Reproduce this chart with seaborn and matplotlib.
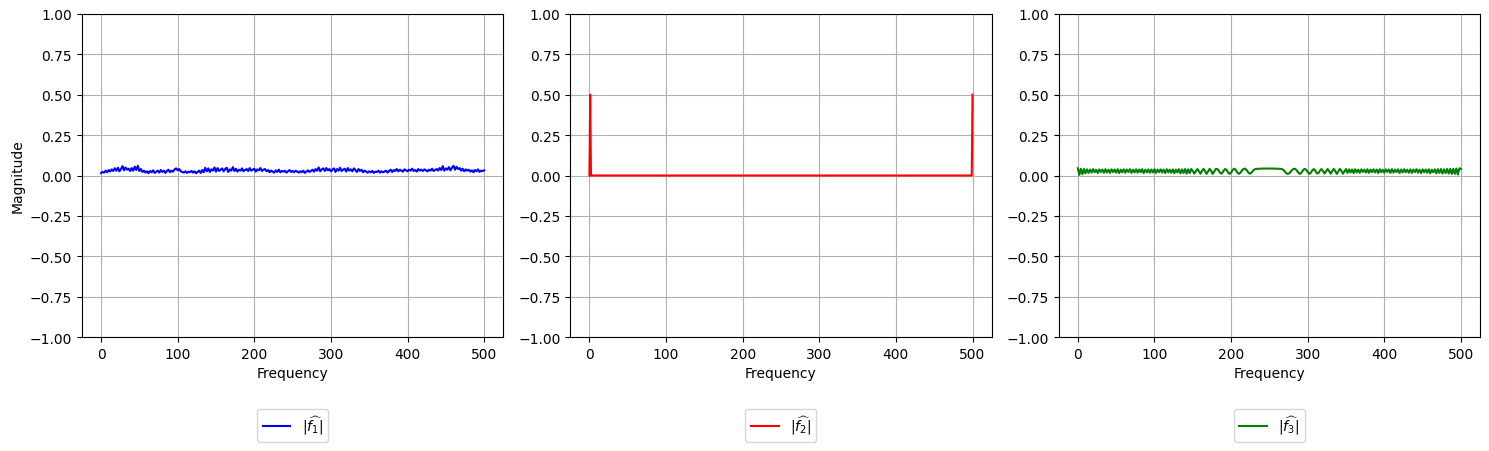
import numpy as np
import pandas as pd
import seaborn as sns
import matplotlib
matplotlib.use('Agg')
import matplotlib.pyplot as plt

# frequency axis for f1 and f3 (every 2nd bin)
freq = np.arange(0, 501, 2)

# |f1 hat| - noisy spectrum
mag_f1 = [
    0.015, 0.022, 0.018, 0.030, 0.020, 0.034, 0.025, 0.038, 0.028, 0.045,
    0.030, 0.048, 0.026, 0.040, 0.058, 0.032, 0.050, 0.036, 0.042, 0.028,
    0.046, 0.030, 0.055, 0.034, 0.060, 0.028, 0.040, 0.022, 0.030, 0.018,
    0.026, 0.014, 0.028, 0.020, 0.032, 0.016, 0.024, 0.030, 0.018, 0.034,
    0.022, 0.030, 0.016, 0.028, 0.036, 0.020, 0.030, 0.024, 0.038, 0.044,
    0.032, 0.040, 0.026, 0.022, 0.018, 0.026, 0.016, 0.024, 0.020, 0.028,
    0.018, 0.026, 0.014, 0.022, 0.030, 0.016, 0.034, 0.020, 0.048, 0.026,
    0.044, 0.022, 0.038, 0.030, 0.050, 0.024, 0.046, 0.028, 0.036, 0.044,
    0.026, 0.040, 0.048, 0.022, 0.038, 0.030, 0.052, 0.028, 0.042, 0.024,
    0.036, 0.030, 0.044, 0.026, 0.034, 0.040, 0.028, 0.046, 0.030, 0.036,
    0.042, 0.024, 0.038, 0.032, 0.046, 0.028, 0.036, 0.040, 0.026, 0.034,
    0.020, 0.030, 0.024, 0.018, 0.032, 0.022, 0.036, 0.020, 0.028, 0.024,
    0.030, 0.018, 0.026, 0.034, 0.022, 0.028, 0.020, 0.030, 0.024, 0.018,
    0.026, 0.020, 0.030, 0.016, 0.024, 0.032, 0.022, 0.028, 0.036, 0.024,
    0.040, 0.030, 0.050, 0.026, 0.038, 0.044, 0.028, 0.046, 0.032, 0.040,
    0.026, 0.036, 0.044, 0.022, 0.040, 0.030, 0.048, 0.028, 0.036, 0.042,
    0.024, 0.046, 0.030, 0.038, 0.026, 0.044, 0.034, 0.022, 0.040, 0.028,
    0.036, 0.020, 0.030, 0.024, 0.018, 0.026, 0.020, 0.028, 0.016, 0.024,
    0.022, 0.030, 0.018, 0.026, 0.020, 0.024, 0.030, 0.018, 0.028, 0.036,
    0.022, 0.034, 0.028, 0.040, 0.026, 0.036, 0.030, 0.024, 0.038, 0.032,
    0.026, 0.036, 0.030, 0.042, 0.028, 0.034, 0.024, 0.040, 0.030, 0.036,
    0.028, 0.038, 0.032, 0.026, 0.036, 0.030, 0.042, 0.028, 0.034, 0.040,
    0.030, 0.046, 0.034, 0.058, 0.030, 0.044, 0.036, 0.052, 0.032, 0.048,
    0.060, 0.036, 0.054, 0.040, 0.046, 0.030, 0.042, 0.026, 0.038, 0.030,
    0.036, 0.024, 0.032, 0.020, 0.034, 0.026, 0.038, 0.022, 0.030, 0.028,
    0.032,
]

# |f2 hat| - two spikes (everything else is zero)
freq_f2 = [0, 1, 2, 499, 500]
mag_f2 = [0.0, 0.5, 0.0, 0.0, 0.5]

# |f3 hat| - chirp-like spectrum
mag_f3 = [
    0.045, 0.004, 0.042, 0.008, 0.040, 0.014,
    0.038, 0.016, 0.037, 0.018, 0.039, 0.020, 0.036, 0.015, 0.038, 0.022,
    0.037, 0.017, 0.039, 0.019, 0.036, 0.016, 0.038, 0.021, 0.037, 0.018,
    0.039, 0.015, 0.036, 0.020, 0.038, 0.017, 0.037, 0.022, 0.039, 0.016,
    0.036, 0.019, 0.038, 0.018, 0.037, 0.021, 0.039, 0.015, 0.036, 0.020,
    0.038, 0.017, 0.037, 0.019, 0.039, 0.016, 0.036, 0.021, 0.038, 0.018,
    0.037, 0.015, 0.039, 0.020, 0.036, 0.017, 0.038, 0.014, 0.037, 0.019,
    0.039, 0.013, 0.038, 0.016, 0.040, 0.012, 0.038, 0.015, 0.040,
    0.028, 0.012, 0.026, 0.040, 0.027, 0.011, 0.027, 0.041,
    0.028, 0.010, 0.026, 0.041, 0.029, 0.010, 0.025, 0.040,
    0.040, 0.030, 0.014, 0.012, 0.028, 0.040, 0.036, 0.020, 0.010, 0.018,
    0.034, 0.042, 0.036, 0.020, 0.010, 0.016, 0.030, 0.040, 0.043, 0.036,
    0.022, 0.012, 0.014, 0.026, 0.036, 0.040, 0.041, 0.042, 0.042, 0.043,
    0.043, 0.043, 0.043, 0.043,
    0.043, 0.043, 0.043, 0.043, 0.042, 0.042, 0.042, 0.041, 0.040, 0.036,
    0.026, 0.014, 0.010, 0.014, 0.024, 0.036, 0.042, 0.040, 0.030, 0.016,
    0.010, 0.018, 0.034, 0.041, 0.036, 0.022, 0.010, 0.016, 0.032, 0.040,
    0.030, 0.013, 0.014, 0.030, 0.040,
    0.028, 0.012, 0.026, 0.040, 0.027, 0.011, 0.027, 0.041,
    0.028, 0.010, 0.026, 0.041, 0.029, 0.011, 0.025, 0.040,
    0.016, 0.038, 0.019, 0.037, 0.015, 0.039, 0.020, 0.036, 0.017, 0.038,
    0.022, 0.037, 0.018, 0.039, 0.016, 0.036, 0.021, 0.038, 0.019, 0.037,
    0.015, 0.039, 0.020, 0.036, 0.017, 0.038, 0.022, 0.037, 0.016, 0.039,
    0.018, 0.036, 0.021, 0.038, 0.015, 0.037, 0.019, 0.039, 0.020, 0.036,
    0.017, 0.038, 0.016, 0.037, 0.021, 0.039, 0.018, 0.036, 0.015, 0.038,
    0.020, 0.037, 0.017, 0.039, 0.014, 0.036, 0.019, 0.038, 0.013, 0.039,
    0.016, 0.040, 0.012, 0.038, 0.015, 0.040, 0.012, 0.041, 0.010,
    0.041, 0.010, 0.043, 0.006, 0.045, 0.040,
]

series = [
    (freq, mag_f1, 'blue', r'$|\widehat{f_1}|$'),
    (freq_f2, mag_f2, 'red', r'$|\widehat{f_2}|$'),
    (freq, mag_f3, 'green', r'$|\widehat{f_3}|$'),
]

fig, axes = plt.subplots(nrows=1, ncols=3, figsize=(14.89, 4.52), dpi=100)
fig.subplots_adjust(left=0.055, right=0.994, top=0.967, bottom=0.252, wspace=0.159)

for ax, (x, y, col, lab) in zip(axes, series):
    sns.lineplot(x=x, y=y, ax=ax, color=col, label=lab, linewidth=1.5)
    ax.set_ylim(-1, 1)
    ax.set_yticks(np.arange(-1, 1.01, 0.25))
    ax.set_xlabel('Frequency')
    ax.set_ylabel('')
    ax.grid(True)
    ax.legend(loc='upper center', bbox_to_anchor=(0.5, -0.2))

axes[0].set_ylabel('Magnitude')

fig.savefig('out.png', dpi=100)
